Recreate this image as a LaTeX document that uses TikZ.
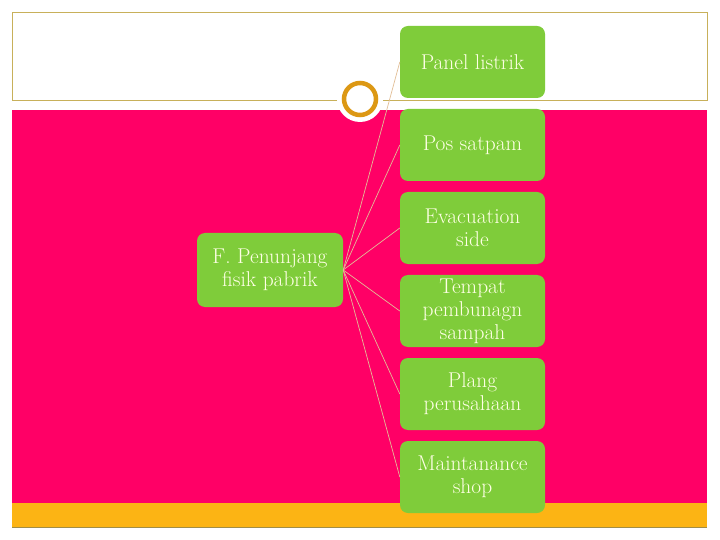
\documentclass[tikz,border=0pt]{standalone}
\usetikzlibrary{positioning}
\definecolor{pinkbg}{RGB}{255,0,102}
\definecolor{boxgreen}{RGB}{127,204,58}
\definecolor{barorange}{RGB}{252,180,20}
\definecolor{frameline}{RGB}{200,176,90}
\definecolor{ringcol}{RGB}{220,152,20}
\definecolor{txtcol}{RGB}{255,255,230}
\definecolor{linkcol}{RGB}{226,190,150}
\tikzset{
  itembox/.style={fill=boxgreen, rounded corners=8bp, minimum width=145bp, minimum height=72bp,
    inner sep=1bp, align=center, text=txtcol, font=\fontsize{21.5}{23}\selectfont},
  rootbox/.style={itembox, minimum width=146bp, minimum height=74bp},
  link/.style={draw=linkcol, line width=0.7bp}
}
\begin{document}
\begin{tikzpicture}[x=1bp,y=-1bp]
\useasboundingbox (0,0) rectangle (720,540);
\fill[white] (0,0) rectangle (720,540);
% top frame
\draw[frameline, line width=0.8bp] (12,100) -- (12,12) -- (707,12) -- (707,100) -- cycle;
% pink panel and orange bar
\fill[pinkbg] (12,110) rectangle (707,503);
\fill[barorange] (12,503) rectangle (707,527);
\draw[frameline!80!black, line width=0.5bp] (12,527) -- (707,527);
% circle ornament
\fill[white] (360,99) circle (23);
\draw[ringcol, line width=4.5bp] (360,99) circle (16);
% nodes
\node[rootbox] (root) at (270,270) {F. Penunjang\\fisik pabrik};
\node[itembox] (n1) at (472.5,62) {Panel listrik};
\node[itembox] (n2) at (472.5,145) {Pos satpam};
\node[itembox] (n3) at (472.5,228) {Evacuation\\side};
\node[itembox] (n4) at (472.5,311) {Tempat\\pembunagn\\sampah};
\node[itembox] (n5) at (472.5,394) {Plang\\perusahaan};
\node[itembox] (n6) at (472.5,477) {Maintanance\\shop};
% connectors
\foreach \n in {n1,n2,n3,n4,n5,n6}
  \draw[link] (root.east) -- (\n.west);
\end{tikzpicture}
\end{document}
